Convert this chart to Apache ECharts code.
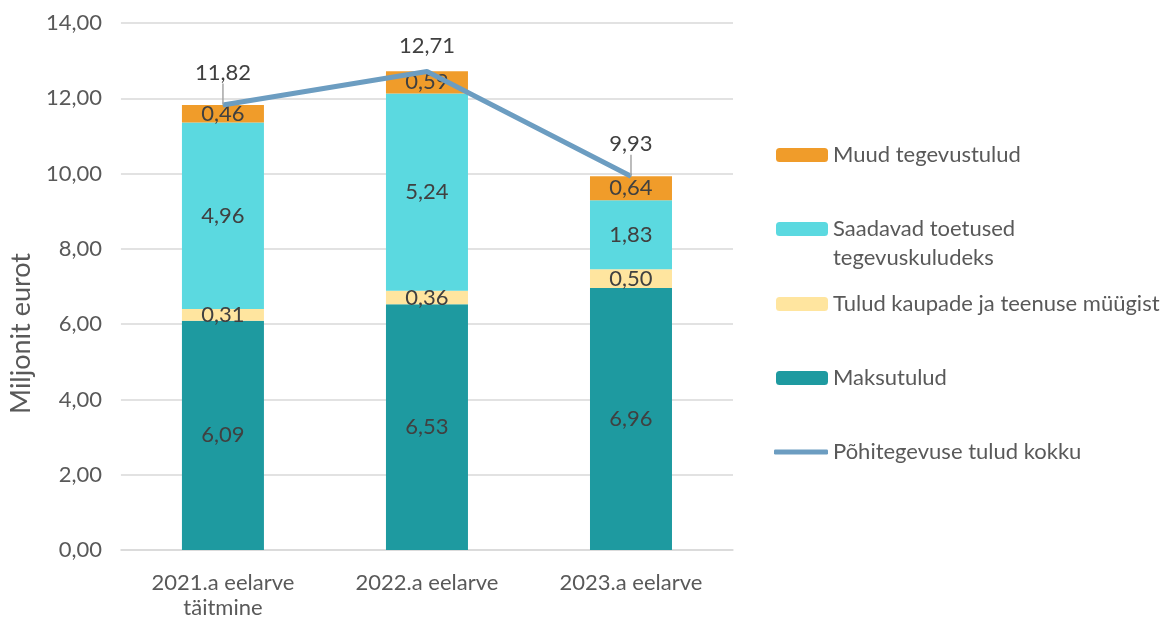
<!DOCTYPE html>
<html>
<head>
<meta charset="utf-8">
<script src="https://cdn.jsdelivr.net/npm/echarts@6/dist/echarts.min.js"></script>
<style>
    html, body { margin: 0; padding: 0; background: #fff; }
    #main { width: 1169px; height: 620px; }
</style>
</head>
<body>
<div id="main"></div>
<script>
    // andmed
    var categories = ['2021.a eelarve\ntäitmine', '2022.a eelarve', '2023.a eelarve'];
    var maksutulud = [6.09, 6.53, 6.96];
    var tuludKaupade = [0.31, 0.36, 0.50];
    var saadavad = [4.96, 5.24, 1.83];
    var muud = [0.46, 0.59, 0.64];
    var kokku = [11.82, 12.71, 9.93];
    var yTicks = [0, 2, 4, 6, 8, 10, 12, 14];

    var FONT = 'Lato';
    var FS = 22;
    var TXT = '#595959';
    var colors = {
        maks: '#1E9AA0',
        tulud: '#FFE59F',
        saad: '#5BD9E0',
        muud: '#F09C2A',
        line: '#6C9DC1'
    };

    function fmt(v) {
        return v.toFixed(2).replace('.', ',');
    }

    var barLabel = {
        show: true,
        position: 'inside',
        color: '#404040',
        fontFamily: FONT,
        fontSize: FS,
        formatter: function (p) { return fmt(p.value); }
    };

    function barSeries(name, data, color) {
        return {
            name: name,
            type: 'bar',
            stack: 'sum',
            barWidth: 82,
            itemStyle: { color: color },
            label: barLabel,
            data: data
        };
    }

    function legendItem(name, top, left, extra) {
        var lg = {
            data: [name],
            orient: 'vertical',
            left: left,
            top: top,
            padding: 0,
            itemWidth: 52,
            itemHeight: 14,
            selectedMode: false,
            textStyle: { color: TXT, fontFamily: FONT, fontSize: FS, lineHeight: 29 }
        };
        for (var k in extra) lg[k] = extra[k];
        return lg;
    }

    // 12,71 silt on lähedal, juhtjoont pole
    var kokkuData = kokku.map(function (v, i) {
        return i === 1 ? { value: v, labelLine: { show: false } } : v;
    });

    var chart = echarts.init(document.getElementById('main'));
    var option = {
        animation: false,
        grid: { left: 115, right: 436, top: 23, bottom: 70 },
        legend: [
            legendItem('Muud tegevustulud', 140.5, 776),
            legendItem('Saadavad toetused tegevuskuludeks', 185.5, 776, {
                formatter: function () { return '\nSaadavad toetused\ntegevuskuludeks'; }
            }),
            legendItem('Tulud kaupade ja teenuse müügist', 289.5, 776),
            legendItem('Maksutulud', 363.5, 776),
            legendItem('Põhitegevuse tulud kokku', 437.5, 774, {
                icon: 'roundRect',
                itemWidth: 54,
                itemHeight: 5,
                itemStyle: { color: colors.line }
            })
        ],
        xAxis: {
            type: 'category',
            data: categories,
            axisLine: { lineStyle: { color: '#D9D9D9', width: 1.5 } },
            axisTick: { show: false },
            axisLabel: {
                color: TXT, fontFamily: FONT, fontSize: FS, lineHeight: 25, margin: 20
            }
        },
        yAxis: {
            type: 'value',
            min: yTicks[0],
            max: yTicks[yTicks.length - 1],
            interval: 2,
            name: 'Miljonit eurot',
            nameLocation: 'middle',
            nameGap: 81,
            nameTextStyle: {
                color: TXT, fontFamily: FONT, fontSize: 27, padding: [0, 94, 0, 0]
            },
            axisLine: { show: false },
            axisTick: { show: false },
            splitLine: { lineStyle: { color: '#D9D9D9', width: 1.5 } },
            axisLabel: {
                color: TXT, fontFamily: FONT, fontSize: FS, margin: 19,
                formatter: function (v) { return fmt(v); }
            }
        },
        series: [
            barSeries('Maksutulud', maksutulud, colors.maks),
            barSeries('Tulud kaupade ja teenuse müügist', tuludKaupade, colors.tulud),
            barSeries('Saadavad toetused tegevuskuludeks', saadavad, colors.saad),
            barSeries('Muud tegevustulud', muud, colors.muud),
            {
                name: 'Põhitegevuse tulud kokku',
                type: 'line',
                data: kokkuData,
                symbol: 'circle',
                symbolSize: 1,
                itemStyle: { color: colors.line },
                lineStyle: { color: colors.line, width: 5 },
                z: 5,
                label: {
                    show: true,
                    position: 'top',
                    distance: 5,
                    color: '#404040',
                    fontFamily: FONT,
                    fontSize: FS,
                    formatter: function (p) { return fmt(p.value); }
                },
                labelLine: {
                    show: true,
                    lineStyle: { color: '#A6A6A6', width: 1.5 }
                },
                labelLayout: function (p) {
                    if (p.dataIndex === 1) return { dy: -9 };
                    return { dy: -16 };
                }
            }
        ]
    };
    chart.setOption(option);
</script>
</body>
</html>
